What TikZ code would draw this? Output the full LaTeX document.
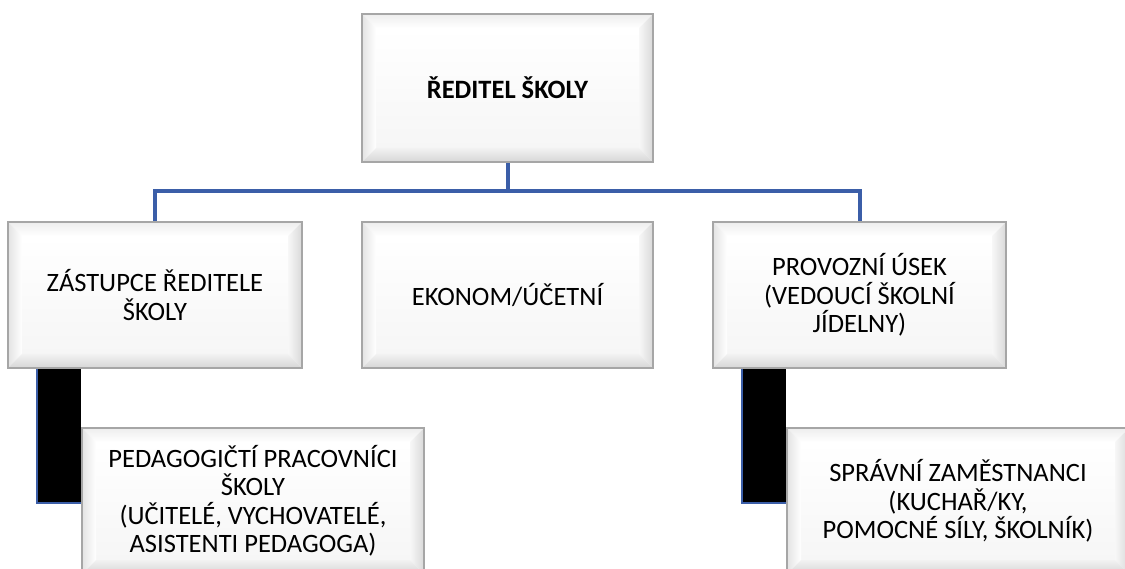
\documentclass[tikz,border=0pt]{standalone}
\usepackage{fontspec}
\setmainfont{Carlito}
\usetikzlibrary{backgrounds,calc}
\definecolor{connblue}{RGB}{59,94,168}
\definecolor{bordergray}{RGB}{166,166,166}
\tikzset{
  bevelbox/.style 2 args={draw=bordergray, line width=1.5pt, fill=white,
    minimum width=#1, minimum height=#2, inner sep=0pt, align=center,
    font=\fontsize{26.5}{28.5}\selectfont,
    path picture={
      \def\bv{14pt}
      \coordinate (pNW) at (path picture bounding box.north west);
      \coordinate (pNE) at (path picture bounding box.north east);
      \coordinate (pSW) at (path picture bounding box.south west);
      \coordinate (pSE) at (path picture bounding box.south east);
      \coordinate (iNW) at ([shift={(\bv,-\bv)}]pNW);
      \coordinate (iNE) at ([shift={(-\bv,-\bv)}]pNE);
      \coordinate (iSW) at ([shift={(\bv,\bv)}]pSW);
      \coordinate (iSE) at ([shift={(-\bv,\bv)}]pSE);
      \shade[top color=white, bottom color=gray!7] (iNW) rectangle (iSE);
      \shade[top color=gray!14, bottom color=white] (pNW) -- (pNE) -- (iNE) -- (iNW) -- cycle;
      \shade[left color=gray!22, right color=white] (pNW) -- (iNW) -- (iSW) -- (pSW) -- cycle;
      \shade[right color=gray!30, left color=gray!6] (pNE) -- (iNE) -- (iSE) -- (pSE) -- cycle;
      \shade[bottom color=gray!32, top color=gray!10] (pSW) -- (iSW) -- (iSE) -- (pSE) -- cycle;
      \draw[black!70, line width=2pt] (pSW) -- (pSE);
    }},
  conn/.style={draw=connblue, line width=4pt},
  blackconn/.style={fill=black},
  blueedge/.style={draw=connblue, line width=2pt}
}
\begin{document}
\begin{tikzpicture}[x=1pt,y=-1pt]
\useasboundingbox (0,0) rectangle (1125,569);

\node[bevelbox={291pt}{148pt}, font=\fontsize{26.5}{28.5}\selectfont\bfseries] (top) at (507.5,88) {ŘEDITEL ŠKOLY};
\node[bevelbox={294pt}{146pt}] (zast) at (155,295) {ZÁSTUPCE ŘEDITELE\\ŠKOLY};
\node[bevelbox={291pt}{146pt}] (ekon) at (507.5,295) {EKONOM/ÚČETNÍ};
\node[bevelbox={293pt}{146pt}] (prov) at (859.5,295) {PROVOZNÍ ÚSEK\\(VEDOUCÍ ŠKOLNÍ\\JÍDELNY)};
\node[bevelbox={342pt}{146pt}] (ped) at (253,501) {PEDAGOGIČTÍ PRACOVNÍCI\\ŠKOLY\\(UČITELÉ, VYCHOVATELÉ,\\ASISTENTI PEDAGOGA)};
\node[bevelbox={342pt}{146pt}] (sprav) at (958,501) {SPRÁVNÍ ZAMĚSTNANCI\\(KUCHAŘ/KY,\\POMOCNÉ SÍLY, ŠKOLNÍK)};

\coordinate (bus) at (0,191);
\coordinate (lc) at (37,503);
\coordinate (rc) at (742,503);

\begin{scope}[on background layer]
  \fill[white] (0,0) rectangle (1125,569);
  \draw[conn] (top.south) -- (top.south |- bus);
  \draw[conn] (zast.north) -- (zast.north |- bus) -- (prov.north |- bus) -- (prov.north);
  \fill[blackconn] (lc |- zast.south) rectangle (ped.west |- lc);
  \draw[blueedge] (lc |- zast.south) -- (lc) -- (ped.west |- lc);
  \fill[blackconn] (rc |- prov.south) rectangle (sprav.west |- rc);
  \draw[blueedge] (rc |- prov.south) -- (rc) -- (sprav.west |- rc);
\end{scope}
\end{tikzpicture}
\end{document}
